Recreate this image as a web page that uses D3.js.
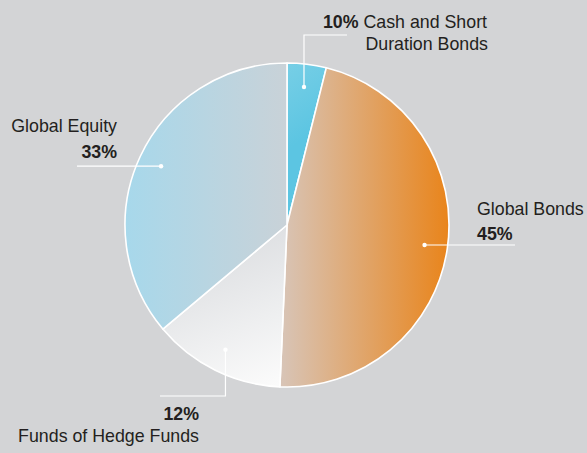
<!DOCTYPE html>
<html>
<head>
<meta charset="utf-8">
<script src="https://cdn.jsdelivr.net/npm/d3@7"></script>
<style>
  html, body { margin: 0; padding: 0; background: #d3d4d6; }
  svg text { font-family: "Liberation Sans", Arial, sans-serif; fill: #231f20; }
</style>
</head>
<body>
<div id="chart"></div>
<script>
// data
const categories = ["Cash and Short Duration Bonds", "Global Bonds", "Funds of Hedge Funds", "Global Equity"];
// slice sizes as drawn in the picture (angle share, %)
const shares = [3.9, 46.8, 13.2, 36.1];
// the percentages printed in the labels
const pctLabels = ["10%", "45%", "12%", "33%"];

const width = 587, height = 453;
const cx = 287, cy = 225, radius = 162;

const svg = d3.select("#chart").append("svg")
    .attr("width", width)
    .attr("height", height);

svg.append("rect")
    .attr("width", width)
    .attr("height", height)
    .attr("fill", "#d3d4d6");

// gradients, one per slice (coords are page coords, shifted to the pie group below)
const defs = svg.append("defs");
const grads = [
  { id: "g-cash", x1: 287, y1: 60, x2: 330, y2: 120, stops: ["#78cfe6", "#5cc5e2"] },
  { id: "g-bonds", x1: 282, y1: 0, x2: 450, y2: 0, stops: ["#d8c4b6", "#e9841a"] },
  { id: "g-funds", x1: 200, y1: 235, x2: 265, y2: 390, stops: ["#dadcdf", "#fbfbfb"] },
  { id: "g-equity", x1: 125, y1: 0, x2: 287, y2: 0, stops: ["#a7d8eb", "#c9d2d8"] }
];
grads.forEach(gr => {
  const lg = defs.append("linearGradient")
      .attr("id", gr.id)
      .attr("gradientUnits", "userSpaceOnUse")
      .attr("x1", gr.x1 - cx).attr("y1", gr.y1 - cy)
      .attr("x2", gr.x2 - cx).attr("y2", gr.y2 - cy);
  gr.stops.forEach((c, i) => {
    lg.append("stop").attr("offset", i ? "100%" : "0%").attr("stop-color", c);
  });
});

const pie = d3.pie().sort(null).value(d => d.share);
const arc = d3.arc().innerRadius(0).outerRadius(radius);
const dotArc = d3.arc().innerRadius(139).outerRadius(139);

const rows = categories.map((c, i) => ({ name: c, share: shares[i], pct: pctLabels[i] }));
const arcs = pie(rows);

const g = svg.append("g").attr("transform", `translate(${cx},${cy})`);

g.selectAll("path.slice")
  .data(arcs)
  .enter().append("path")
    .attr("class", "slice")
    .attr("d", arc)
    .attr("fill", (d, i) => `url(#${grads[i].id})`)
    .attr("stroke", "#fff")
    .attr("stroke-width", 1.6)
    .attr("stroke-linejoin", "round");

// leader lines: where each one ends up (absolute coords)
const leaders = [
  d => [[d[0], d[1]], [d[0], 35], [347, 35]],
  d => [[d[0], d[1]], [515, d[1]]],
  d => [[d[0], d[1]], [d[0], 396], [160, 396]],
  d => [[d[0], d[1]], [77, d[1]]]
];

arcs.forEach((a, i) => {
  const c = dotArc.centroid(a);
  const p = [c[0] + cx, c[1] + cy];
  svg.append("path")
      .attr("d", d3.line()(leaders[i](p)))
      .attr("fill", "none")
      .attr("stroke", "#fff")
      .attr("stroke-width", 1.2);
  svg.append("circle")
      .attr("cx", p[0]).attr("cy", p[1])
      .attr("r", 2.2)
      .attr("fill", "#fff");
});

// labels
const fs = 17.8;

// cash
const t0 = svg.append("text")
    .attr("x", 487).attr("y", 28)
    .attr("text-anchor", "end")
    .style("font-size", fs + "px");
t0.append("tspan").attr("font-weight", "bold").text(pctLabels[0]);
t0.append("tspan").text(" Cash and Short");
svg.append("text")
    .attr("x", 488).attr("y", 50)
    .attr("text-anchor", "end")
    .style("font-size", fs + "px")
    .text("Duration Bonds");

// bonds
svg.append("text")
    .attr("x", 477).attr("y", 215)
    .style("font-size", fs + "px")
    .text(categories[1]);
svg.append("text")
    .attr("x", 477).attr("y", 240)
    .attr("font-weight", "bold")
    .style("font-size", fs + "px")
    .text(pctLabels[1]);

// funds of hedge funds
svg.append("text")
    .attr("x", 199).attr("y", 420)
    .attr("text-anchor", "end")
    .attr("font-weight", "bold")
    .style("font-size", fs + "px")
    .text(pctLabels[2]);
svg.append("text")
    .attr("x", 199).attr("y", 442)
    .attr("text-anchor", "end")
    .style("font-size", fs + "px")
    .text(categories[2]);

// equity
svg.append("text")
    .attr("x", 117).attr("y", 132)
    .attr("text-anchor", "end")
    .style("font-size", fs + "px")
    .text(categories[3]);
svg.append("text")
    .attr("x", 117).attr("y", 158)
    .attr("text-anchor", "end")
    .attr("font-weight", "bold")
    .style("font-size", fs + "px")
    .text(pctLabels[3]);
</script>
</body>
</html>
